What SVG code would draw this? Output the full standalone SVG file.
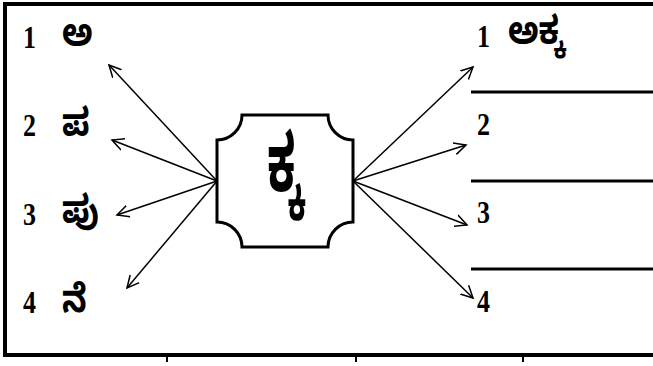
<svg xmlns="http://www.w3.org/2000/svg" width="653" height="366" viewBox="0 0 653 366">
<style>
.frame{stroke:#000;stroke-width:4;fill:none}
.rule{stroke:#000;stroke-width:3;fill:none}
.tick{stroke:#000;stroke-width:2;fill:none}
.num{font-family:"Liberation Serif",serif;font-weight:bold;font-size:26px;fill:#000}
.kn{font-family:"Noto Sans Kannada","Noto Sans","Lohit Kannada",sans-serif;font-weight:bold;font-size:32px;fill:#000}
.conn line{stroke:#000;stroke-width:1.5;marker-end:url(#arr)}
.box{stroke:#000;stroke-width:3;fill:#fff}
</style>
<defs>
<marker id="arr" markerUnits="userSpaceOnUse" markerWidth="14" markerHeight="14" refX="12" refY="6" orient="auto" viewBox="0 0 14 12">
<path d="M0 0 L12 6 L0 12" fill="none" stroke="#000" stroke-width="1.5"/>
</marker>
</defs>
<rect width="653" height="366" fill="#fff"/>
<g id="frame">
<line class="frame" x1="3" y1="4" x2="653" y2="4"/>
<line class="frame" x1="5" y1="2" x2="5" y2="357"/>
<line class="frame" x1="3" y1="355" x2="653" y2="355"/>
<line class="tick" x1="167" y1="355" x2="167" y2="362"/>
<line class="tick" x1="356" y1="355" x2="356" y2="362"/>
<line class="tick" x1="523" y1="355" x2="523" y2="362"/>
<line class="rule" x1="471" y1="92" x2="653" y2="92"/>
<line class="rule" x1="471" y1="181" x2="653" y2="181"/>
<line class="rule" x1="471" y1="269" x2="653" y2="269"/>
</g>
<g id="connectors" class="conn">
<line x1="217" y1="181" x2="109" y2="65"/>
<line x1="217" y1="181" x2="112" y2="140"/>
<line x1="217" y1="181" x2="117" y2="215"/>
<line x1="217" y1="181" x2="127" y2="288"/>
<line x1="353" y1="181" x2="473" y2="67"/>
<line x1="353" y1="181" x2="466" y2="145"/>
<line x1="353" y1="181" x2="467" y2="225"/>
<line x1="353" y1="181" x2="473" y2="298"/>
</g>
<g id="center">
<path class="box" d="M242 115 H328 A25 25 0 0 0 353 140 V222 A25 25 0 0 0 328 247 H242 A25 25 0 0 0 217 222 V140 A25 25 0 0 0 242 115 Z"/>
<text class="kn" transform="translate(285,191) scale(1,1.8)" text-anchor="middle" style="font-size:44px">ಕ್ಕ</text>
</g>
<g id="left1"><text class="num" transform="translate(23,48) scale(1,1.2)">1</text><text class="kn" transform="translate(62,46) scale(1,1.2)">ಅ</text></g>
<g id="left2"><text class="num" transform="translate(23,136) scale(1,1.2)">2</text><text class="kn" transform="translate(62,136) scale(1,1.2)">ಪ</text></g>
<g id="left3"><text class="num" transform="translate(23,225) scale(1,1.2)">3</text><text class="kn" transform="translate(62,223) scale(1,1.2)">ಪು</text></g>
<g id="left4"><text class="num" transform="translate(23,313) scale(1,1.2)">4</text><text class="kn" transform="translate(62,312) scale(1,1.2)">ನೆ</text></g>
<g id="right1"><text class="num" transform="translate(477,47) scale(1,1.2)">1</text><text class="kn" transform="translate(508,44) scale(1,1.2)">ಅಕ್ಕ</text></g>
<g id="right2"><text class="num" transform="translate(477,135) scale(1,1.2)">2</text></g>
<g id="right3"><text class="num" transform="translate(477,223) scale(1,1.2)">3</text></g>
<g id="right4"><text class="num" transform="translate(477,312) scale(1,1.2)">4</text></g>
</svg>
